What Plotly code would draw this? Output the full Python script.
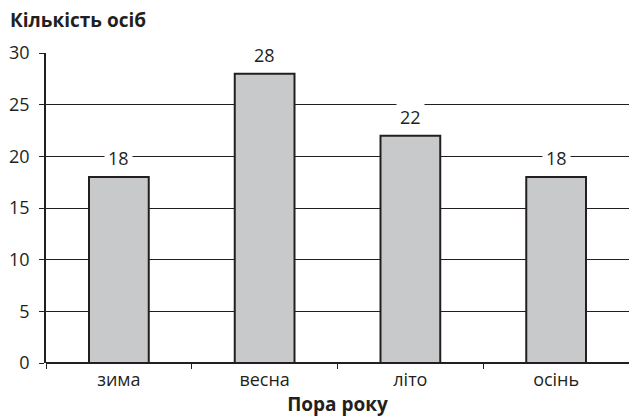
import plotly.graph_objects as go

seasons = ["зима", "весна", "літо", "осінь"]
people = [18, 28, 22, 18]
y_ticks = [0, 5, 10, 15, 20, 25, 30]

ink = "#231f20"
font_family = "Open Sans, Noto Sans, sans-serif"

fig = go.Figure()
fig.add_trace(go.Bar(
    x=seasons,
    y=people,
    marker=dict(color="#c8c9cb", line=dict(color=ink, width=2)),
    width=0.41,
    hoverinfo="skip",
))

for s, v in zip(seasons, people):
    fig.add_annotation(
        x=s, y=v, yshift=19, text=str(v), showarrow=False,
        font=dict(family=font_family, size=18, color=ink),
        bgcolor="white", borderpad=3, yanchor="middle",
    )

fig.update_layout(
    width=629, height=417,
    margin=dict(l=46, r=0, t=53, b=54),
    paper_bgcolor="white", plot_bgcolor="white",
    showlegend=False,
    font=dict(family=font_family, size=18, color=ink),
    annotations=list(fig.layout.annotations) + [
        dict(text="<b>Кількість осіб</b>", xref="paper", yref="paper",
             x=-38 / 583, y=1, yshift=33, xanchor="left", yanchor="middle",
             showarrow=False, font=dict(family=font_family, size=19, color=ink)),
    ],
)

fig.update_xaxes(
    type="category", range=[-0.5, 3.5],
    showline=False, showgrid=False, zeroline=False,
    ticks="outside", tickson="boundaries", ticklen=5, tickcolor=ink,
    ticklabelstandoff=4,
    tickfont=dict(family=font_family, size=18, color=ink),
    title=dict(text="<b>Пора року</b>", standoff=7,
               font=dict(family=font_family, size=19, color=ink)),
)

fig.update_yaxes(
    range=[0, 30], tickvals=y_ticks,
    showline=True, linecolor=ink, linewidth=1.5,
    showgrid=True, gridcolor=ink, gridwidth=1,
    zeroline=True, zerolinecolor=ink, zerolinewidth=1.5,
    ticks="outside", ticklen=5, tickcolor=ink,
    ticklabelstandoff=6,
    tickfont=dict(family=font_family, size=18, color=ink),
)

fig.write_html("out.html")
